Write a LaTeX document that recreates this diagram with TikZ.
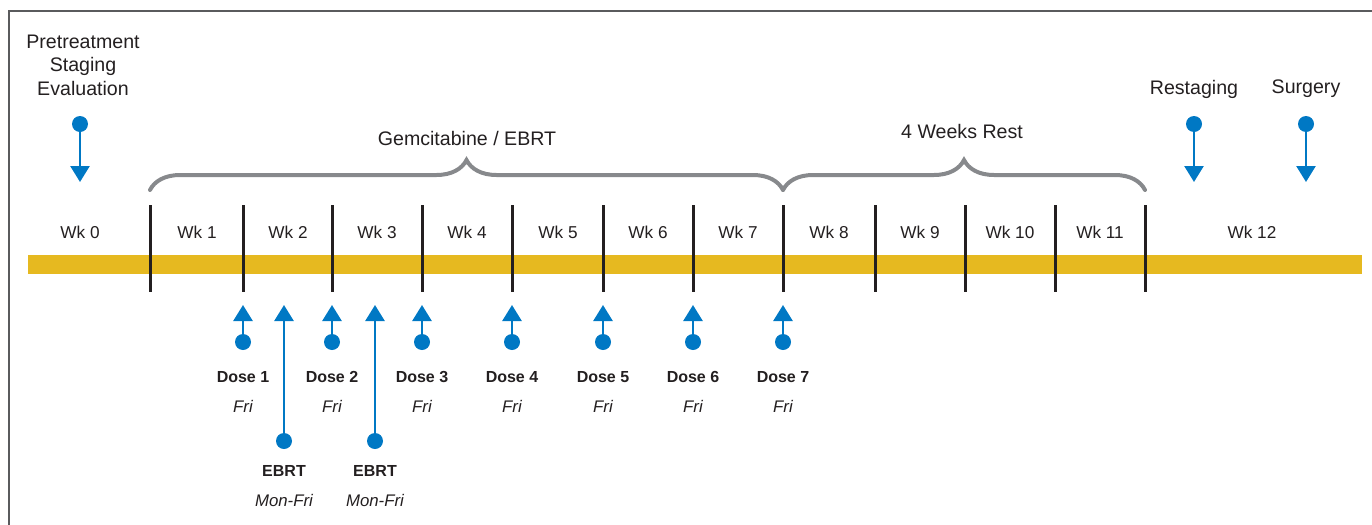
\documentclass[tikz,border=0pt]{standalone}
\usepackage{fontspec}
\setmainfont{Liberation Sans}
\usetikzlibrary{arrows.meta,positioning,calc,decorations.pathreplacing}

\definecolor{ptblue}{RGB}{0,120,196}
\definecolor{ptgold}{RGB}{230,185,32}
\definecolor{ptgray}{RGB}{135,137,140}
\definecolor{ptframe}{RGB}{90,91,93}
\definecolor{ptink}{RGB}{35,31,32}

\tikzset{
  bluedot/.style={circle,fill=ptblue,inner sep=0pt,minimum size=8pt},
  bluearrow/.style={draw=ptblue,line width=1.3pt,-{Triangle[width=9.5pt,length=8pt]}},
  tick/.style={draw=ptink,line width=1.5pt},
  phase/.style={draw=ptgray,line width=2pt,line cap=round,decorate,
    decoration={brace,amplitude=15pt}},
  wklbl/.style={font=\fontsize{8.6}{10}\selectfont},
  dosetxt/.style={font=\fontsize{8}{10}\selectfont\bfseries},
  daytxt/.style={font=\fontsize{8.4}{10}\selectfont\itshape}
}

\begin{document}
\begin{tikzpicture}[x=0.5pt,y=-0.5pt,font=\fontsize{9.8}{11.8}\selectfont,text=ptink]
  \useasboundingbox (0,0) rectangle (1372,525);
  \draw[ptframe,line width=1pt] (9,525) -- (9,11) -- (1372,11);
  % timeline
  \fill[ptgold] (28,255) rectangle (1362,274);
  \foreach \x in {150,243,332,422,512,603,693,783,875,965,1055,1145}
    \draw[tick] (\x,205) -- (\x,292);
  \foreach \x/\n in {80/0,197/1,288/2,377/3,467/4,558/5,648/6,738/7,829/8,920/9,1010/10,1100/11,1252/12}
    \node[wklbl] (wk\n) at (\x,232) {Wk \n};
  % phases
  \draw[phase] (150,190) -- (783,190);
  \draw[phase] (783,190) -- (1145,190);
  \node (gem) at (467,138) {Gemcitabine / EBRT};
  \node (rest) at (962,131) {4 Weeks Rest};
  % staging, restaging, surgery
  \node[align=center] (pre) at (83,65) {Pretreatment\\Staging\\Evaluation};
  \node (restag) at (1194,89) {Restaging};
  \node (surg) at (1306,89) {Surgery};
  \foreach \x/\n in {80/pre,1194/restag,1306/surg} {
    \node[bluedot] (\n dot) at (\x,124) {};
    \coordinate (\n tip) at (\x,182);
    \draw[bluearrow] (\n dot) -- (\n tip);
  }
  % gemcitabine doses
  \foreach \x/\n in {243/1,332/2,422/3,512/4,603/5,693/6,783/7} {
    \node[bluedot] (dose\n) at (\x,342) {};
    \coordinate (dose\n tip) at (\x,305);
    \draw[bluearrow] (dose\n) -- (dose\n tip);
    \node[dosetxt] (dose\n lbl) at (\x,377) {Dose \n};
    \node[daytxt] (dose\n day) at (\x,406) {Fri};
  }
  % radiation
  \foreach \x/\n in {284/1,375/2} {
    \node[bluedot] (ebrt\n) at (\x,441) {};
    \coordinate (ebrt\n tip) at (\x,305);
    \draw[bluearrow] (ebrt\n) -- (ebrt\n tip);
    \node[dosetxt] (ebrt\n lbl) at (\x,471) {EBRT};
    \node[daytxt] (ebrt\n day) at (\x,500) {Mon-Fri};
  }
\end{tikzpicture}
\end{document}
